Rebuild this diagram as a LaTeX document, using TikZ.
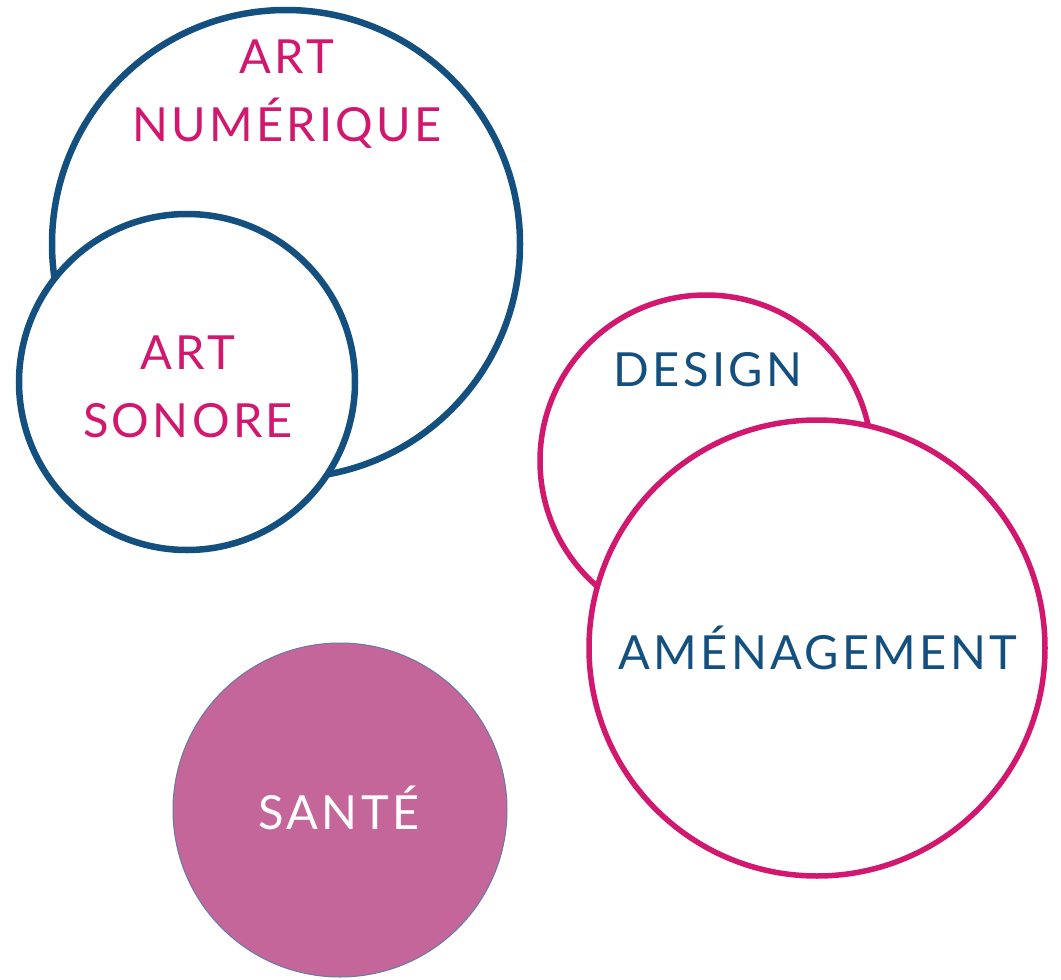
\documentclass[tikz,border=0pt]{standalone}
\usepackage{fontspec}
\setmainfont[LetterSpace=7]{Lato}
\definecolor{ringblue}{HTML}{14507F}
\definecolor{ringpink}{HTML}{D2176F}
\definecolor{santefill}{HTML}{C5669A}
\definecolor{santeedge}{HTML}{6A78A8}
\tikzset{
  bluering/.style={draw=ringblue,line width=6.5pt,fill=white},
  pinkring/.style={draw=ringpink,line width=5.5pt,fill=white},
  label/.style={font=\fontsize{47}{68}\selectfont,align=center,inner sep=0pt}
}
\begin{document}
\begin{tikzpicture}[x=1pt,y=-1pt]
			\useasboundingbox (0,0) rectangle (1061,980);
			\coordinate (N) at (286,244);
			\coordinate (S) at (187,382);
			\coordinate (D) at (706,461);
			\coordinate (A) at (817,648);
			\coordinate (H) at (340,810);
			\draw[bluering] (N) circle[radius=234];
			\draw[bluering] (S) circle[radius=168];
			\draw[pinkring] (D) circle[radius=166];
			\draw[pinkring] (A) circle[radius=228];
			\draw[fill=santefill,draw=santeedge,line width=1pt] (H) circle[radius=167];
			\node[label,text=ringpink] (numerique) at (287,94) {ART\\NUMÉRIQUE};
			\node[label,text=ringpink] (sonore) at (188,387) {ART\\SONORE};
			\node[label,text=ringblue] (design) at (708,370) {DESIGN};
			\node[label,text=ringblue] (amenagement) at (818,648) {AMÉNAGEMENT};
			\node[label,text=white] (sante) at (339,808) {SANTÉ};
			
		\end{tikzpicture}
\end{document}
